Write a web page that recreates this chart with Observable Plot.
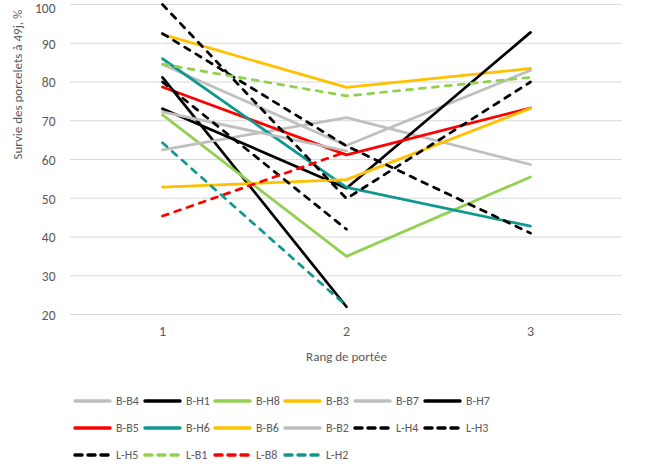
<!DOCTYPE html>
<html>
<head>
<meta charset="utf-8">
<script src="https://cdn.jsdelivr.net/npm/d3@7"></script>
<script src="https://cdn.jsdelivr.net/npm/@observablehq/plot@0.6"></script>
<style>
  body { margin: 0; background: #fff; font-family: Carlito, Lato, "Liberation Sans", sans-serif; }
  #chart svg { display: block; overflow: visible; }
  .legend { position: relative; width: 661px; height: 85px; color: #595959; font-size: 12px; }
  .legend .item { position: absolute; display: flex; align-items: center; height: 16px; white-space: nowrap; }
  .legend .item svg { display: block; margin-right: 3px; }
</style>
</head>
<body>
<div id="chart"></div>
<div class="legend" id="legend"></div>
<script>
// Litter rank (x) and piglet survival at 49 days (%), one array per sow line
const ranks = [1, 2, 3];
const yTicks = [20, 30, 40, 50, 60, 70, 80, 90, 100];

const seriesNames = ["B-B4", "B-H1", "B-H8", "B-B3", "B-B7", "B-H7", "B-B5", "B-H6",
                     "B-B6", "B-B2", "L-H4", "L-H3", "L-H5", "L-B1", "L-B8", "L-H2"];

const B_B4 = [84.5, 63.6, 83.0];
const B_H1 = [81.2, 22.0, null];
const B_H8 = [71.5, 35.0, 55.5];
const B_B3 = [92.3, 78.6, 83.5];
const B_B7 = [62.5, 70.8, 58.7];
const B_H7 = [73.1, 52.6, 92.8];
const B_B5 = [78.7, 61.2, 73.3];
const B_H6 = [86.0, 52.8, 42.8];
const B_B6 = [52.9, 54.8, 73.2];
const B_B2 = [72.3, 62.2, null];
const L_H4 = [100.0, 49.9, 80.0];
const L_H3 = [92.5, 63.5, 41.0];
const L_H5 = [80.0, 42.0, null];
const L_B1 = [84.6, 76.4, 81.2];
const L_B8 = [45.4, 62.0, null];
const L_H2 = [64.3, 22.2, null];

const seriesValues = [B_B4, B_H1, B_H8, B_B3, B_B7, B_H7, B_B5, B_H6,
                      B_B6, B_B2, L_H4, L_H3, L_H5, L_B1, L_B8, L_H2];

// Line styles (colour, dashed or not), in the same order as the series
const gray = "#bfbfbf", black = "#000000", green = "#92d050", yellow = "#ffc000",
      red = "#ff0000", teal = "#109890";
const seriesColors = [gray, black, green, yellow, gray, black, red, teal,
                      yellow, gray, black, black, black, green, red, teal];
const seriesDashed = seriesNames.map(n => n.startsWith("L-"));

const rows = seriesNames.map((name, i) =>
  ranks.map((r, j) => ({name, rank: r, value: seriesValues[i][j]}))
       .filter(d => d.value != null));

const W = 661, H = 388;
const lineMarks = rows.map((data, i) => Plot.line(data, {
  x: "rank", y: "value",
  stroke: seriesColors[i],
  strokeWidth: 2.75,
  strokeLinecap: "round",
  strokeLinejoin: "round",
  strokeDasharray: seriesDashed[i] ? "6,7" : null
}));

const topTick = yTicks[yTicks.length - 1];
const chart = Plot.plot({
  width: W,
  height: H,
  marginTop: 4,
  marginBottom: H - 314,
  marginLeft: 70,
  marginRight: 39,
  style: {fontFamily: "Carlito, Lato, 'Liberation Sans', sans-serif", color: "#595959", background: "#fff", overflow: "visible"},
  x: {type: "point", domain: ranks, padding: 0.5},
  y: {domain: [20, 100]},
  marks: [
    Plot.ruleY(yTicks, {stroke: "#d9d9d9", strokeWidth: 1}),
    // the top label sits a little lower so it stays inside the page
    Plot.axisY({ticks: yTicks.slice(0, -1), tickSize: 0, tickPadding: 15, fontSize: 13.5, dy: 1, label: null}),
    Plot.axisY({ticks: [topTick], tickSize: 0, tickPadding: 15, fontSize: 13.5, dy: 4, label: null}),
    Plot.axisX({tickSize: 0, tickPadding: 12, fontSize: 14, label: null}),
    Plot.text(["Rang de portée"], {frameAnchor: "bottom", dy: 42, fontSize: 13, fill: "#595959", lineAnchor: "middle"}),
    Plot.text(["Survie des porcelets à 49j, %"], {frameAnchor: "left", dx: -53, rotate: -90, fontSize: 13, fill: "#595959", lineAnchor: "middle"}),
    ...lineMarks
  ]
});
document.getElementById("chart").appendChild(chart);

// Legend: six entries per row, sample line followed by the series name
const legend = d3.select("#legend");
seriesNames.forEach((name, i) => {
  const row = Math.floor(i / 6), col = i % 6;
  const item = legend.append("div").attr("class", "item")
    .style("left", (73 + col * 70) + "px")
    .style("top", (5 + row * 27) + "px");
  const s = item.append("svg").attr("width", 40).attr("height", 10);
  s.append("line")
    .attr("x1", 2).attr("x2", 37).attr("y1", 5).attr("y2", 5)
    .attr("stroke", seriesColors[i]).attr("stroke-width", 3.5)
    .attr("stroke-linecap", "round")
    .attr("stroke-dasharray", seriesDashed[i] ? "7,6" : null);
  item.append("span").text(name);
});
</script>
</body>
</html>
